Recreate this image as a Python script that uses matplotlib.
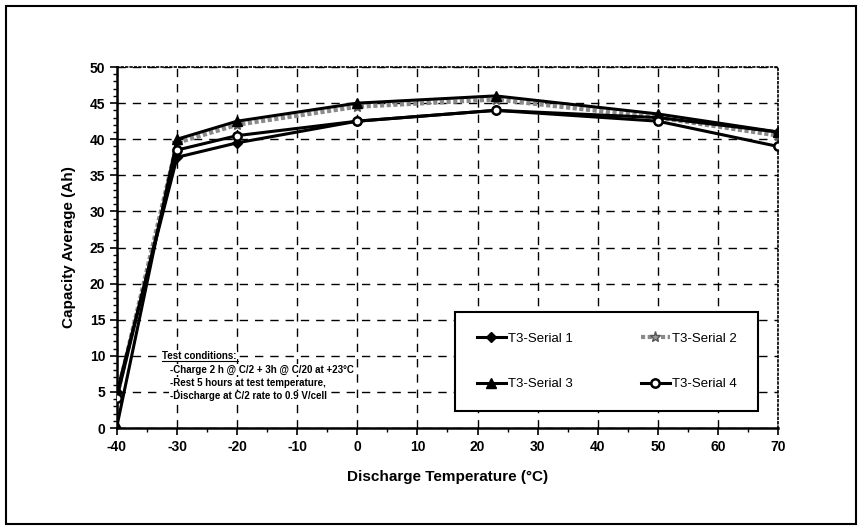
import matplotlib
matplotlib.use("Agg")
import matplotlib.pyplot as plt
from matplotlib.ticker import MultipleLocator
from matplotlib.patches import Rectangle

temps = [-40, -30, -20, 0, 23, 50, 70]
serial1 = [5.0, 37.5, 39.5, 42.5, 44.0, 43.0, 41.0]
serial2 = [4.5, 39.5, 42.0, 44.5, 45.5, 43.0, 40.5]
serial3 = [0.3, 40.0, 42.5, 45.0, 46.0, 43.5, 41.0]
serial4 = [4.2, 38.5, 40.5, 42.5, 44.0, 42.5, 39.0]
labels = ["T3-Serial 1", "T3-Serial 2", "T3-Serial 3", "T3-Serial 4"]
xticks = list(range(-40, 71, 10))
yticks = list(range(0, 51, 5))
notes = ["-Charge 2 h @ C/2 + 3h @ C/20 at +23\u00b0C",
         "-Rest 5 hours at test temperature,",
         "-Discharge at C/2 rate to 0.9 V/cell"]

plt.rcParams['font.family'] = ['Liberation Sans', 'DejaVu Sans']
plt.rcParams['axes.unicode_minus'] = False
fig = plt.figure(figsize=(8.59, 5.29), dpi=100)
ax = fig.add_axes([0.1362, 0.1909, 0.7695, 0.6824])

h1, = ax.plot(temps, serial1, color='black', lw=2.2, marker='D', ms=5, mfc='black', mec='black', label=labels[0], zorder=5)
h2, = ax.plot(temps, serial2, color='#8a8a8a', lw=3, ls=(0, (1, 0.6)), marker='*', ms=8, mfc='#9a9a9a', mec='#555555', label=labels[1], zorder=4)
h3, = ax.plot(temps, serial3, color='black', lw=2.2, marker='^', ms=7, mfc='black', mec='black', label=labels[2], zorder=6)
h4, = ax.plot(temps, serial4, color='black', lw=2.2, marker='o', ms=6, mfc='white', mec='black', mew=1.8, label=labels[3], zorder=7)

ax.set_xlim(-40, 70)
ax.set_ylim(0, 50)
ax.set_xticks(xticks)
ax.set_yticks(yticks)
ax.xaxis.set_minor_locator(MultipleLocator(5))
ax.yaxis.set_minor_locator(MultipleLocator(1))
ax.tick_params(axis='both', which='major', direction='out', length=5, width=1.2, labelsize=10)
ax.tick_params(axis='both', which='minor', direction='out', length=3, width=1)
for lab in ax.get_xticklabels() + ax.get_yticklabels():
    lab.set_fontweight('bold')
ax.grid(True, which='major', color='black', ls=(0, (6, 5)), lw=1)
ax.spines['left'].set_linewidth(1.8)
ax.spines['bottom'].set_linewidth(1.8)
for s in ['top', 'right']:
    ax.spines[s].set_linestyle(':')
    ax.spines[s].set_linewidth(1.2)

ax.set_xlabel("Discharge Temperature (\u00b0C)", fontsize=11, fontweight='bold', labelpad=12)
ax.set_ylabel("Capacity Average (Ah)", fontsize=11, fontweight='bold', labelpad=10)

leg = ax.legend([h1, h3, h2, h4], [labels[0], labels[2], labels[1], labels[3]],
                loc='lower left', bbox_to_anchor=(0.502, 0.028, 0.478, 0.274), mode='expand',
                ncol=2, fancybox=False, framealpha=1, edgecolor='black', fontsize=9.5,
                labelspacing=2.5, handlelength=2.2, handletextpad=0.2, borderpad=1.6,
                columnspacing=1.0)
leg.get_frame().set_linewidth(1.5)
leg.set_zorder(10)

tx = -32.5
ax.text(tx, 10.0, "Test conditions:", fontsize=7, fontweight='bold', va='center', ha='left',
        zorder=10, bbox=dict(facecolor='white', edgecolor='none', pad=0.5))
ax.plot([tx, tx + 12.7], [9.35, 9.35], color='black', lw=0.8, zorder=11)
for i, line in enumerate(notes):
    ax.text(tx + 1.3, 8.1 - i * 1.85, line, fontsize=7, fontweight='bold', va='center', ha='left',
            zorder=10, bbox=dict(facecolor='white', edgecolor='none', pad=0.5))

fig.patches.append(Rectangle((0.007, 0.01), 0.990, 0.978, transform=fig.transFigure,
                             fill=False, edgecolor='black', lw=1.5))

fig.savefig("out.png", dpi=100)
